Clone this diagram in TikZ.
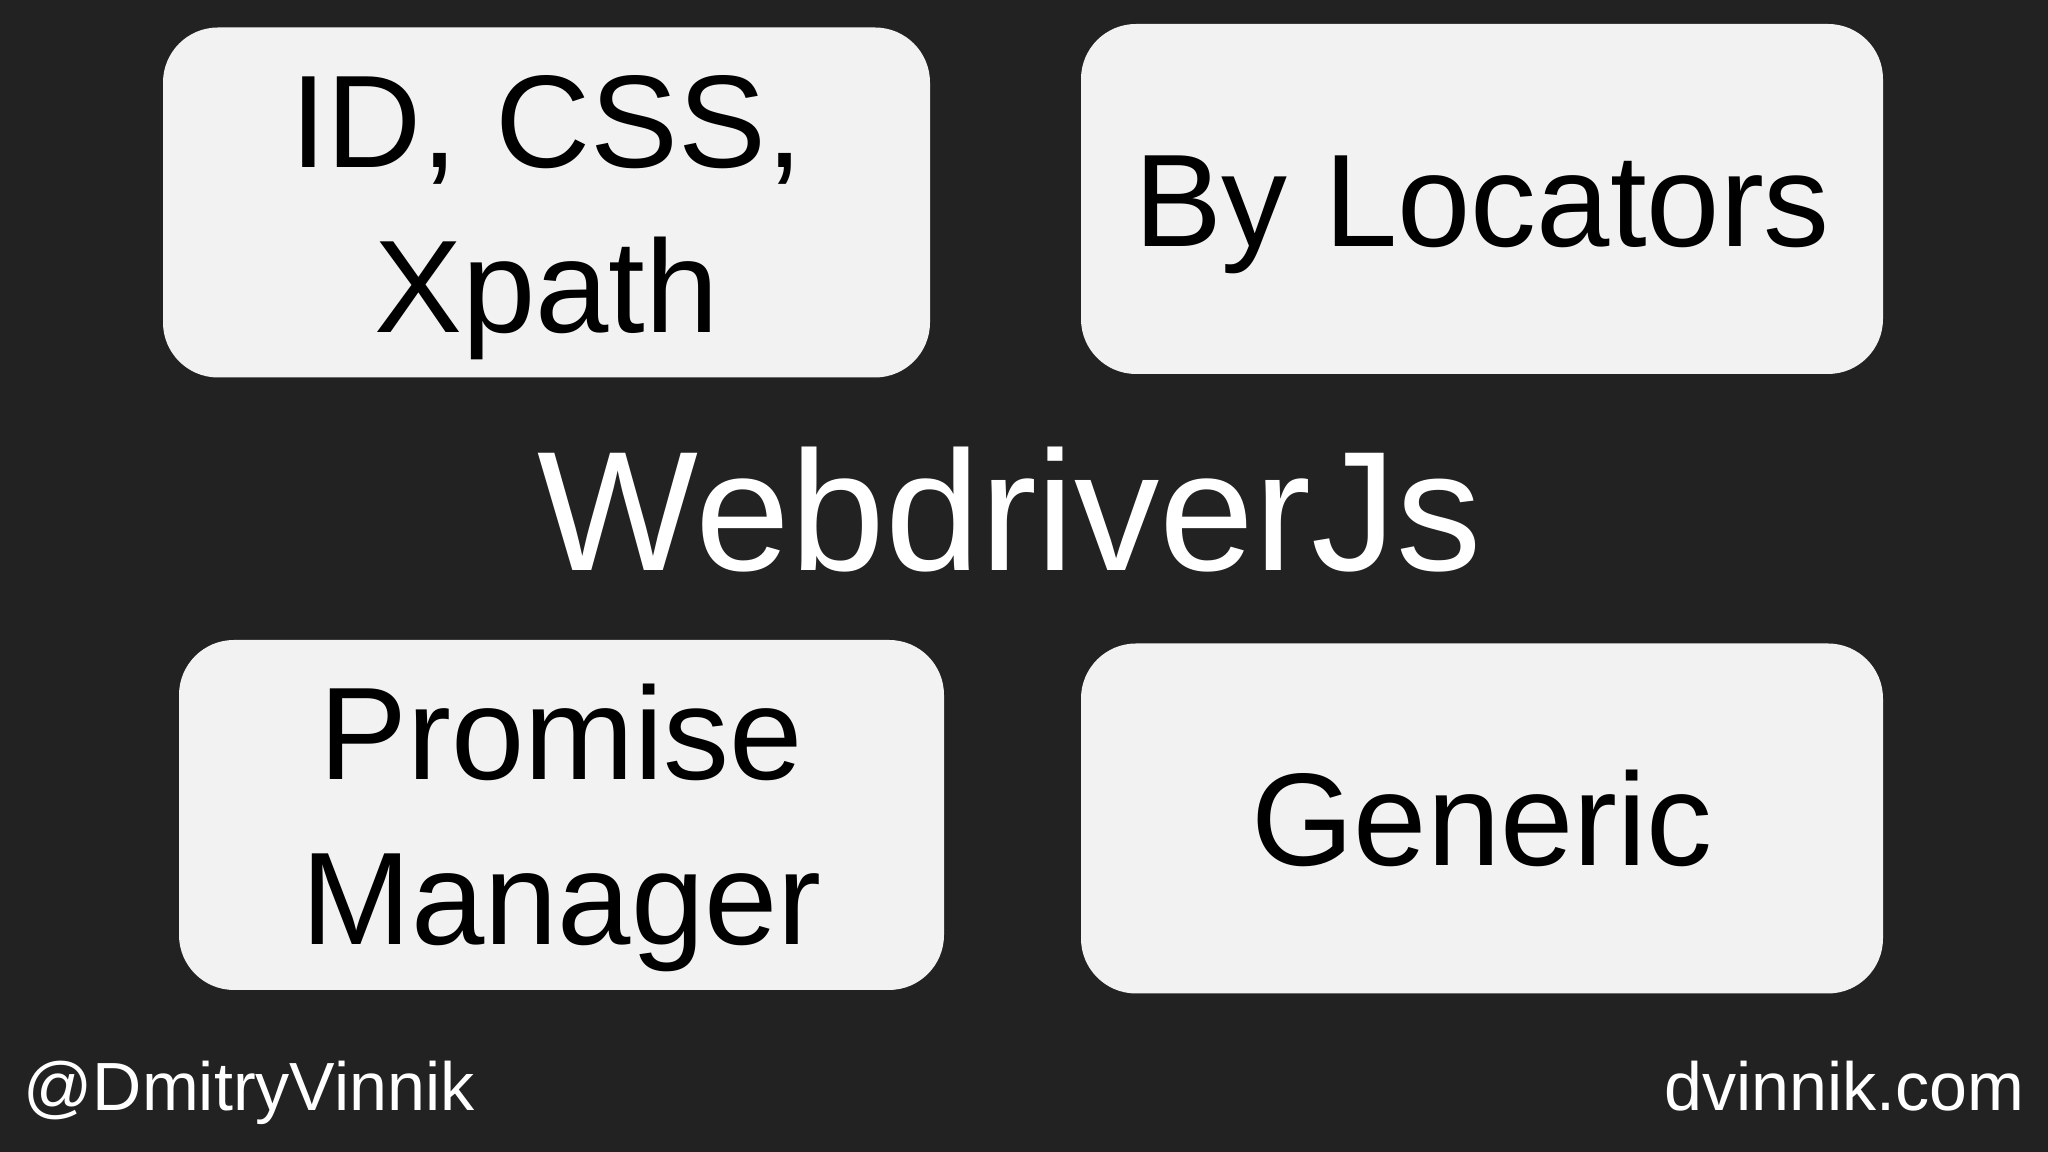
\documentclass[tikz,border=0pt]{standalone}
\usepackage{fontspec}
\setmainfont{Liberation Sans}
\usetikzlibrary{positioning}
\definecolor{slidebg}{HTML}{222222}
\definecolor{cardfill}{HTML}{F2F2F2}

\begin{document}
\begin{tikzpicture}[
    card/.style={fill=cardfill, rounded corners=0.55cm, minimum height=3.5cm,
      align=center, inner sep=0pt, font=\fontsize{37.5}{47}\selectfont},
    oneline/.style={text height=26.9pt, text depth=0pt},
    twoline/.style={text height=73.9pt, text depth=0pt},
    footer/.style={text=white, inner sep=0pt, font=\fontsize{19.4}{23}\selectfont}
  ]
    \fill[slidebg] (0,0) rectangle (20.48,11.52);
    \node[card, twoline, minimum width=7.67cm] (ids) at (5.465,9.495) {ID, CSS,\\Xpath};
    \node[card, oneline, minimum width=8.02cm] (locators) at (14.82,9.53) {By Locators};
    \node[card, twoline, minimum width=7.65cm] (promise) at (5.615,3.37) {Promise\\Manager};
    \node[card, oneline, minimum width=8.02cm] (generic) at (14.82,3.335) {Generic};
    \node[text=white, inner sep=0pt, anchor=base, font=\fontsize{48.5}{58}\selectfont]
      (title) at (10.10,5.81) {WebdriverJs};
    \node[footer, anchor=base west] (handle) at (0.23,0.41) {@DmitryVinnik};
    \node[footer, anchor=base east] (site) at (20.25,0.41) {dvinnik.com};
\end{tikzpicture}
\end{document}
